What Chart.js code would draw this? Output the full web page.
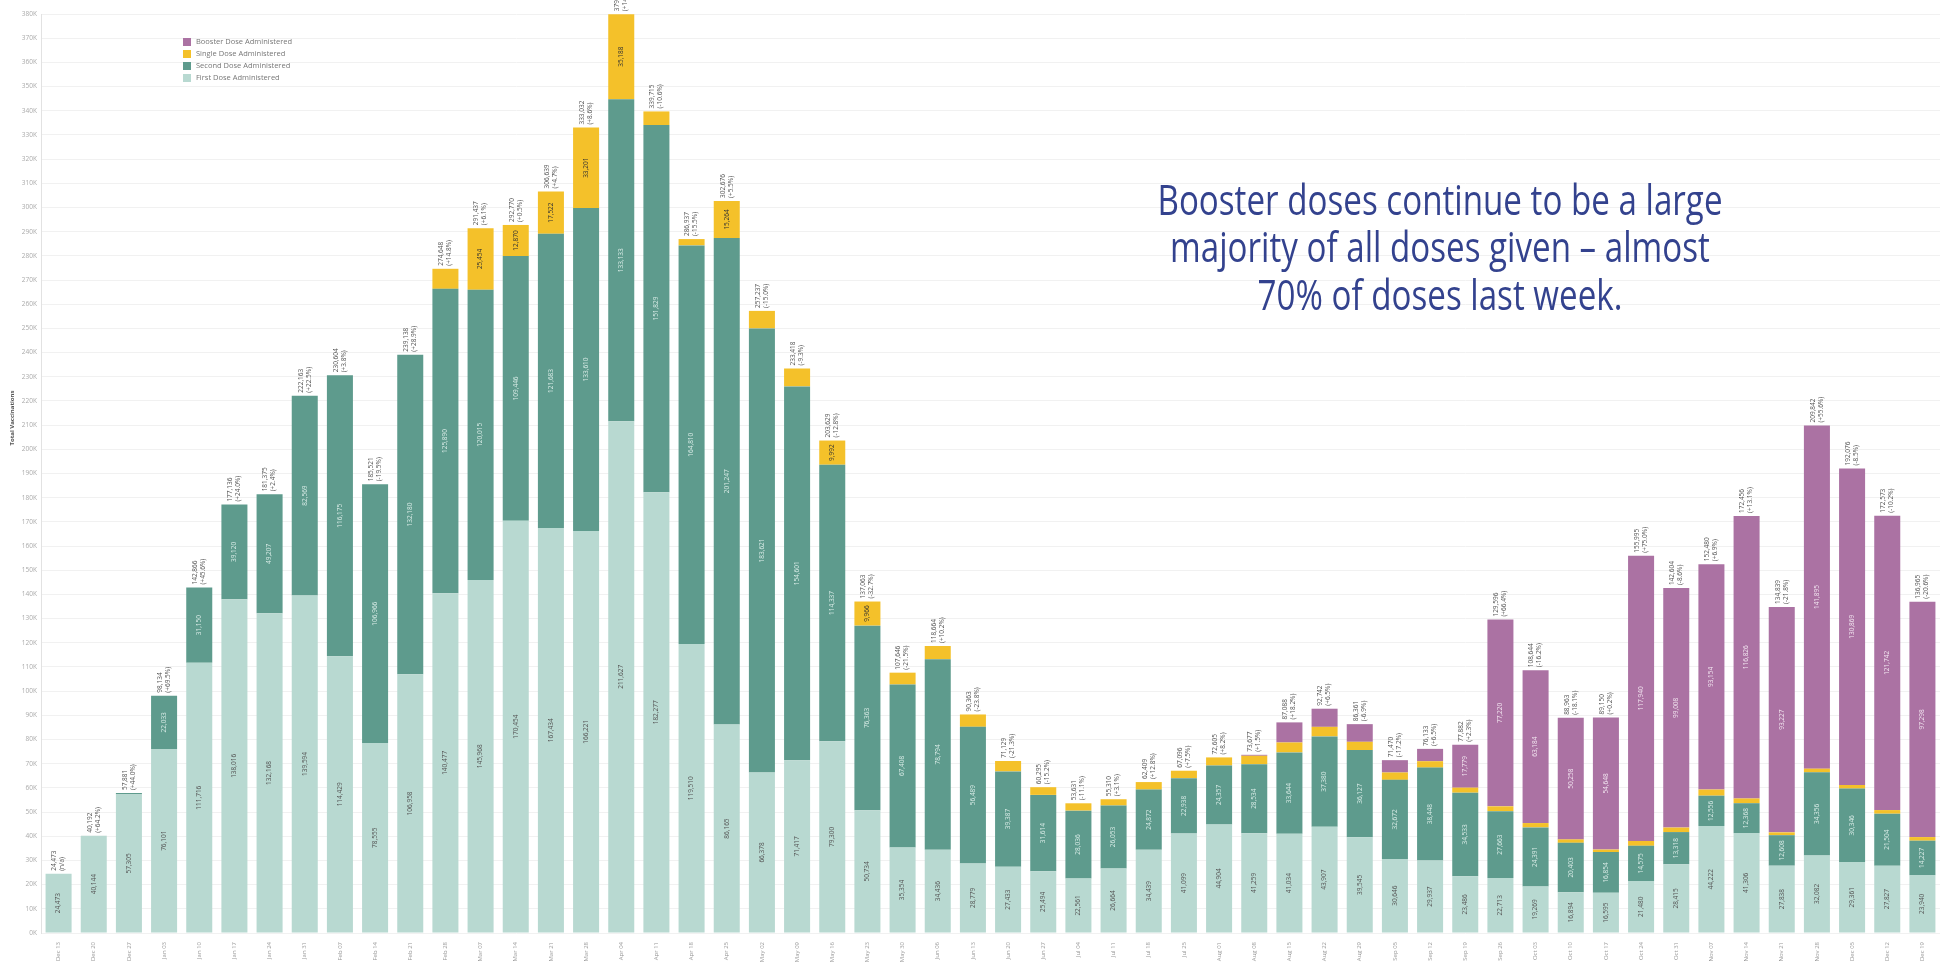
<!DOCTYPE html>
<html>
<head>
<meta charset="utf-8">
<script src="https://cdn.jsdelivr.net/npm/chart.js@4.4.0/dist/chart.umd.min.js"></script>
<style>
html,body{margin:0;padding:0;background:#fff;}
canvas{display:block;}
</style>
</head>
<body>
<canvas id="c" width="1960" height="963"></canvas>
<script>
const weeks = ['Dec 13','Dec 20','Dec 27','Jan 03','Jan 10','Jan 17','Jan 24','Jan 31','Feb 07','Feb 14','Feb 21','Feb 28','Mar 07','Mar 14','Mar 21','Mar 28','Apr 04','Apr 11','Apr 18','Apr 25','May 02','May 09','May 16','May 23','May 30','Jun 06','Jun 13','Jun 20','Jun 27','Jul 04','Jul 11','Jul 18','Jul 25','Aug 01','Aug 08','Aug 15','Aug 22','Aug 29','Sep 05','Sep 12','Sep 19','Sep 26','Oct 03','Oct 10','Oct 17','Oct 24','Oct 31','Nov 07','Nov 14','Nov 21','Nov 28','Dec 05','Dec 12','Dec 19'];

const firstDose = [24473,40144,57305,76101,111716,138016,132168,139594,114429,78555,106958,140477,145968,170454,167434,166221,211627,182277,119510,86165,66378,71417,79300,50734,35354,34436,28779,27433,25494,22561,26664,34439,41099,44904,41259,41034,43907,39545,30646,29937,23486,22713,19269,16894,16595,21480,28415,44222,41306,27838,32082,29361,27827,23940];

const secondDose = [0,48,576,22033,31150,39120,49207,82569,116175,106966,132180,125890,120015,109446,121683,133610,133133,151829,164810,201247,183621,154601,114337,76363,67408,78794,56489,39387,31614,28036,26053,24872,22938,24357,28534,33644,37380,36127,32672,38448,34533,27663,24391,20403,16854,14575,13318,12556,12368,12608,34356,30346,21504,14227];

const singleDose = [0,0,0,0,0,0,0,0,0,0,0,8281,25454,12870,17522,33201,35188,5609,2617,15264,7238,7400,9992,9966,4884,5434,5095,4309,3187,3034,2593,3098,3059,3344,3484,4110,3955,3389,3052,2648,2084,2000,1800,1408,1053,2000,1863,2548,1956,1166,1509,1500,1500,1500];

const boosterDose = [0,0,0,0,0,0,0,0,0,0,0,0,0,0,0,0,0,0,0,0,0,0,0,0,0,0,0,0,0,0,0,0,0,0,400,8300,7500,7300,5100,5100,17779,77220,63184,50258,54648,117940,99008,93154,116826,93227,141895,130869,121742,97298];

const yTickStep = 10000;
const yMax = 380000;
const seriesNames = ['First Dose Administered','Second Dose Administered','Single Dose Administered','Booster Dose Administered'];
const seriesColors = ['#b8d9d1','#5e9b8d','#f4c12a','#ab72a3'];
const segTextColors = ['#555555','#d9ece7','#333333','#f3e6f1'];
const annotationLines = ['Booster doses continue to be a large','majority of all doses given \u2013 almost','70% of doses last week.'];
const yTitle = 'Total Vaccinations';

const FONT = '"Open Sans", "DejaVu Sans", sans-serif';
const fmt = n => n.toLocaleString('en-US');

const seriesData = [firstDose, secondDose, singleDose, boosterDose];

const labelPlugin = {
  id: 'labels',
  afterDatasetsDraw(chart) {
    const ctx = chart.ctx;
    const y = chart.scales.y;
    const metas = seriesData.map((_, i) => chart.getDatasetMeta(i));
    ctx.save();
    ctx.font = '6.5px ' + FONT;
    ctx.textBaseline = 'middle';
    for (let s = 0; s < seriesData.length; s++) {
      metas[s].data.forEach((bar, i) => {
        const v = seriesData[s][i];
        if (!v) return;
        const h = Math.abs(bar.base - bar.y);
        const txt = fmt(v);
        const w = ctx.measureText(txt).width;
        if (h < w + 6) return;
        ctx.save();
        ctx.translate(bar.x, (bar.y + bar.base) / 2);
        ctx.rotate(-Math.PI / 2);
        ctx.textAlign = 'center';
        ctx.fillStyle = segTextColors[s];
        ctx.fillText(txt, 0, 0);
        ctx.restore();
      });
    }
    metas[0].data.forEach((bar, i) => {
      const tot = seriesData.reduce((a, arr) => a + arr[i], 0);
      let pct = '(n/a)';
      if (i > 0) {
        const prev = seriesData.reduce((a, arr) => a + arr[i - 1], 0);
        const p = (tot / prev - 1) * 100;
        pct = '(' + (p >= 0 ? '+' : '') + p.toFixed(1) + '%)';
      }
      const top = y.getPixelForValue(tot);
      ctx.save();
      ctx.translate(bar.x, top - 3);
      ctx.rotate(-Math.PI / 2);
      ctx.textAlign = 'left';
      ctx.fillStyle = '#555';
      ctx.fillText(fmt(tot), 0, -4);
      ctx.fillText(pct, 0, 4);
      ctx.restore();
    });
    ctx.restore();
  },
  afterDraw(chart) {
    const ctx = chart.ctx;
    ctx.save();
    const order = [3, 2, 1, 0];
    ctx.font = '7.5px ' + FONT;
    ctx.textBaseline = 'middle';
    ctx.textAlign = 'left';
    order.forEach((s, k) => {
      const yy = 42 + k * 12;
      ctx.fillStyle = seriesColors[s];
      ctx.fillRect(183, yy - 4, 8, 8);
      ctx.fillStyle = '#777';
      ctx.fillText(seriesNames[s], 196, yy);
    });
    ctx.save();
    ctx.translate(12, 418);
    ctx.rotate(-Math.PI / 2);
    ctx.textAlign = 'center';
    ctx.font = 'bold 6px ' + FONT;
    ctx.fillStyle = '#555';
    ctx.fillText(yTitle, 0, 0);
    ctx.restore();
    ctx.font = '42px ' + FONT;
    ctx.fillStyle = '#33428e';
    ctx.textAlign = 'center';
    ctx.textBaseline = 'alphabetic';
    const w1 = ctx.measureText(annotationLines[0]).width;
    const sx = 565 / w1;
    const bases = [215, 262, 310];
    annotationLines.forEach((ln, k) => {
      ctx.save();
      ctx.translate(1440, bases[k]);
      ctx.scale(sx, 1);
      ctx.fillText(ln, 0, 0);
      ctx.restore();
    });
    ctx.restore();
  }
};

new Chart(document.getElementById('c'), {
  type: 'bar',
  data: {
    labels: weeks,
    datasets: seriesData.map((d, i) => ({
      label: seriesNames[i],
      data: d,
      backgroundColor: seriesColors[i],
      borderWidth: 0,
      barPercentage: 0.74,
      categoryPercentage: 1.0
    }))
  },
  options: {
    responsive: false,
    devicePixelRatio: 1,
    animation: false,
    layout: { padding: { top: 14, right: 20, left: 0, bottom: 0 } },
    plugins: { legend: { display: false }, tooltip: { enabled: false } },
    scales: {
      x: {
        stacked: true,
        grid: { display: false, drawTicks: false },
        border: { display: false },
        ticks: { autoSkip: false, maxRotation: 90, minRotation: 90, color: '#999', padding: 9, font: { size: 6, family: FONT } },
        afterFit(s) { s.height = 30; }
      },
      y: {
        stacked: true,
        min: 0,
        max: yMax,
        ticks: { stepSize: yTickStep, color: '#aaa', padding: 4, font: { size: 6.5, family: FONT }, callback: v => (v / 1000) + 'K' },
        grid: { color: '#f1f1f1', drawTicks: false },
        border: { color: '#e2e2e2' },
        afterFit(s) { s.width = 41; }
      }
    }
  },
  plugins: [labelPlugin]
});
</script>
</body>
</html>
